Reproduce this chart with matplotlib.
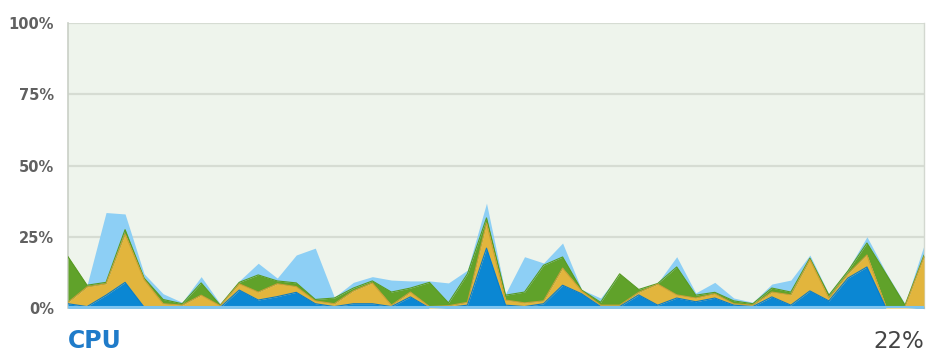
import matplotlib
matplotlib.use("Agg")
import matplotlib.pyplot as plt
import numpy as np

# cumulative tops of each layer (percent)
blue_top = [1.5, 0.5, 4.5, 9, 0.3, 0.2, 0.2, 0.3, 0.2, 6.3, 2.8, 4, 5.5, 1.5, 0.5, 1.5,
            1.5, 0.5, 3.9, 0, 0.2, 1, 21, 1, 0.5, 1.5, 8, 5, 0.5, 0.5, 4.6, 1, 3.5, 2.2,
            3.5, 1, 0.5, 3.9, 1, 6, 2.5, 10.5, 14.4, 0, 0, 0.3]
gold_top = [2, 7.4, 8.5, 26, 10, 1.5, 1, 4.5, 0.8, 8.5, 5.6, 8.5, 7.5, 2.5, 1.5, 6,
            8.8, 1, 5.6, 0.5, 0.8, 2, 29.8, 2.8, 1.8, 2.5, 14, 6, 1, 1, 5.5, 8.4, 4.6, 3.5,
            5, 1.5, 1, 5.6, 4.6, 17, 3.5, 12, 18.6, 0.5, 0.5, 18]
green_top = [18, 8, 9, 27.5, 10.5, 3, 1.5, 8.8, 1, 9, 11.6, 9.5, 8.8, 3, 3.5, 7,
             9.5, 5.6, 7, 9, 1.8, 12, 31.6, 4.5, 5.6, 15, 17.9, 6.3, 2, 12, 6.5, 8.6, 14.4, 4.5,
             5.5, 2.5, 1.5, 7, 5.6, 17.5, 4.5, 13, 22.8, 12, 1, 18.5]
lightblue_top = [18, 8, 33.5, 33, 12, 5, 2, 11, 1.5, 9.5, 15.7, 10.5, 18.6, 21, 3.8, 9,
                 11, 9.8, 9.5, 9.5, 8.8, 13.3, 36.8, 5, 18, 15.8, 22.8, 6.5, 3.5, 12, 6.7, 8.8, 18, 5.3,
                 9, 3.5, 2, 8.4, 9.8, 18.6, 4.9, 13.5, 25, 12.5, 1.5, 22]
yticks = [0, 25, 50, 75, 100]
ytick_labels = ["0%", "25%", "50%", "75%", "100%"]
title = "CPU"
current = "22%"

c_blue = "#0b87d3"
c_gold = "#e2b53d"
c_green = "#60a22a"
c_lblue = "#8dcff5"

x = np.arange(len(blue_top))
b = np.array(blue_top)
g = np.maximum(np.array(gold_top), b)
gr = np.maximum(np.array(green_top), g)
lb = np.maximum(np.array(lightblue_top), gr)

fig = plt.figure(figsize=(9.27, 3.54), dpi=100)
ax = fig.add_axes([68/927, 46/354, 856/927, 285/354])
ax.set_facecolor("#eef4ec")

for yv in yticks[1:]:
    ax.axhline(yv, color="#d6dcd3", lw=1.6, zorder=1)

ax.fill_between(x, gr, lb, color=c_lblue, lw=0, zorder=2)
ax.fill_between(x, g, gr, color=c_green, lw=0, zorder=3)
ax.fill_between(x, b, g, color=c_gold, lw=0, zorder=4)
ax.fill_between(x, 0, b, color=c_blue, lw=0, zorder=5)
ax.plot(x, gr, color="#579a22", lw=0.8, zorder=3.5)
ax.plot(x, g, color="#c9a035", lw=0.8, zorder=4.5)
ax.plot(x, b, color="#0a7cc4", lw=0.8, zorder=5.5)
ax.axhline(0.3, color="#7cc4f0", lw=1.5, zorder=6)

ax.set_xlim(0, len(x) - 1)
ax.set_ylim(0, 100)
ax.set_xticks([])
ax.set_yticks(yticks)
ax.set_yticklabels(ytick_labels, fontsize=10.5, color="#606060", fontweight="bold")
ax.tick_params(axis="y", length=0, pad=10)
for s in ["top", "bottom"]:
    ax.spines[s].set_visible(False)
ax.spines["left"].set_color("#c9cfc6")
ax.spines["left"].set_linewidth(1.2)
ax.spines["right"].set_color("#d3d8d0")
ax.spines["right"].set_linewidth(1.0)

fig.text(68/927, 1 - 348/354, title, fontsize=17, fontweight="bold", color="#1f7bc9",
         ha="left", va="baseline")
fig.text(924/927, 1 - 348/354, current, fontsize=16.5, color="#444444",
         ha="right", va="baseline")

fig.savefig("out.png", dpi=100)
